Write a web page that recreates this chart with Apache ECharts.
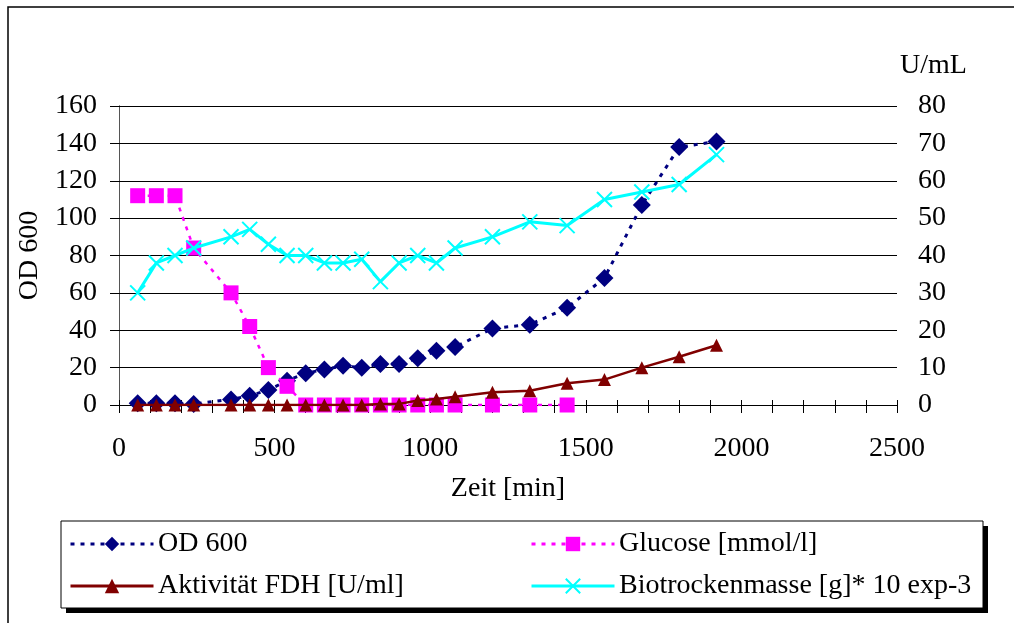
<!DOCTYPE html>
<html>
<head>
<meta charset="utf-8">
<script src="https://cdn.jsdelivr.net/npm/echarts@6/dist/echarts.min.js"></script>
<style>
  html, body { margin: 0; padding: 0; background: #fff; }
  #chart { width: 1014px; height: 623px; }
</style>
</head>
<body>
<div id="chart"></div>
<script>
// Sampling times in minutes
const time = [60, 120, 180, 240, 360, 420, 480, 540, 600, 660, 720, 780, 840, 900, 960, 1020, 1080, 1200, 1320, 1440, 1560, 1680, 1800, 1920];
// Optical density at 600 nm (left axis)
const od600 = [1, 1, 1, 0.5, 3, 5, 8, 13, 17, 19, 21, 20, 22, 22, 25, 29, 31, 41, 43, 52, 68, 107, 138, 141];
// Glucose, measured until 1440 min (left axis)
const glucose = [112, 112, 112, 84, 60, 42, 20, 10, 0, 0, 0, 0, 0, 0, 0, 0, 0, 0, 0, 0];
// FDH activity (right axis, U/mL)
const fdh = [0, 0, 0, 0, 0, 0, 0, 0, 0, 0, 0, 0, 0.3, 0.3, 1.2, 1.6, 2.2, 3.4, 3.8, 5.8, 6.8, 10, 12.9, 16];
// Dry biomass (right axis)
const biomass = [30, 38, 40, 42, 45, 47, 43, 40, 40, 38, 38, 39, 33, 38, 40, 38, 42, 45, 49, 48, 55, 57, 59, 67];

const seriesNames = ['OD 600', 'Glucose [mmol/l]', 'Aktivität FDH [U/ml]', 'Biotrockenmasse [g]* 10 exp-3'];
const xTickLabels = [0, 500, 1000, 1500, 2000, 2500];
const rightAxisUnit = 'U/mL';

const pairs = (xs, ys) => ys.map((v, i) => [xs[i], v]);

const FONT = 'Liberation Serif';
const crossPath = 'path://M0,0L10,10M0,10L10,0';

// Legend entries: two columns, two rows (icon left edge, row centre)
const legendSlots = [[69, 544], [530, 544], [69, 586], [530, 586]];

const chart = echarts.init(document.getElementById('chart'), null, { renderer: 'canvas' });

// Each legend shows only the line+marker icon; its caption is a text element beside it
function legendAt(name, left, centerY) {
  return {
    data: [name],
    left: left, top: centerY - 9, orient: 'horizontal',
    itemWidth: 83, itemHeight: 18, selectedMode: false, padding: 0,
    lineStyle: { width: 3 },
    formatter: () => '',
    textStyle: { fontSize: 1 }
  };
}
const legendCaptions = seriesNames.map((name, i) => ({
  type: 'text',
  x: legendSlots[i][0] + 89, y: legendSlots[i][1],
  style: {
    text: name, fontFamily: FONT, fontSize: 28, fill: '#000',
    verticalAlign: 'middle', align: 'left'
  },
  silent: true, z: 10
}));

chart.setOption({
  animation: false,
  backgroundColor: '#fff',
  grid: { left: 119, right: 117, top: 106, bottom: 218, containLabel: false },
  graphic: [
    { type: 'rect', shape: { x: 8, y: 7, width: 1100, height: 700 }, style: { fill: 'none', stroke: '#000', lineWidth: 1.5 }, silent: true, z: 0 },
    { type: 'rect', shape: { x: 66, y: 526, width: 922, height: 87 }, style: { fill: '#000' }, silent: true, z: 0 },
    { type: 'rect', shape: { x: 61, y: 521, width: 922, height: 87 }, style: { fill: '#fff', stroke: '#000', lineWidth: 1 }, silent: true, z: 1 },
    { type: 'text', x: 900, y: 66, style: { text: rightAxisUnit, fontFamily: FONT, fontSize: 28, fill: '#000', verticalAlign: 'middle' }, silent: true, z: 5 }
  ].concat(legendCaptions),
  legend: seriesNames.map((n, i) => legendAt(n, legendSlots[i][0], legendSlots[i][1])),
  xAxis: [
    {
      type: 'value', min: 0, max: 2500, interval: 100,
      name: 'Zeit [min]', nameLocation: 'middle', nameGap: 70,
      nameTextStyle: { fontFamily: FONT, fontSize: 28, color: '#000' },
      axisLine: { show: true, onZero: false, lineStyle: { color: '#000', width: 1 } },
      axisTick: { show: true, inside: false, length: 8, lineStyle: { color: '#000' } },
      axisLabel: {
        margin: 30, fontFamily: FONT, fontSize: 28, color: '#000',
        formatter: v => (xTickLabels.indexOf(v) >= 0 ? String(v) : ''),
        showMinLabel: true, showMaxLabel: true
      },
      splitLine: { show: false }
    },
    {
      type: 'value', min: 0, max: 2500, interval: 100, position: 'bottom',
      axisLine: { show: false },
      axisTick: { show: true, inside: true, length: 5, lineStyle: { color: '#000' } },
      axisLabel: { show: false }, splitLine: { show: false }
    }
  ],
  yAxis: [
    {
      type: 'value', min: 0, max: 160, interval: 20,
      name: 'OD 600', nameLocation: 'middle', nameGap: 72, nameRotate: 90,
      nameTextStyle: { fontFamily: FONT, fontSize: 28, color: '#000' },
      axisLine: { show: true, lineStyle: { color: '#555', width: 1 } },
      axisTick: { show: true, inside: false, length: 9, lineStyle: { color: '#000' } },
      axisLabel: { margin: 22, fontFamily: FONT, fontSize: 28, color: '#000' },
      splitLine: { show: true, lineStyle: { color: '#000', width: 1 } }
    },
    {
      type: 'value', min: 0, max: 80, interval: 10, position: 'right',
      axisLine: { show: true, lineStyle: { color: '#555', width: 1 } },
      axisTick: { show: true, inside: false, length: 9, lineStyle: { color: '#000' } },
      axisLabel: { margin: 21, fontFamily: FONT, fontSize: 28, color: '#000' },
      splitLine: { show: false }
    }
  ],
  series: [
    {
      name: seriesNames[0], type: 'line', yAxisIndex: 0, z: 2,
      data: pairs(time, od600),
      symbol: 'diamond', symbolSize: 18,
      lineStyle: { color: '#000080', width: 3, type: [4, 6] },
      itemStyle: { color: '#000080' }
    },
    {
      name: seriesNames[1], type: 'line', yAxisIndex: 0, z: 3,
      data: pairs(time, glucose),
      symbol: 'rect', symbolSize: 15,
      lineStyle: { color: '#FF00FF', width: 2.5, type: [4, 6] },
      itemStyle: { color: '#FF00FF' }
    },
    {
      name: seriesNames[2], type: 'line', yAxisIndex: 1, z: 4,
      data: pairs(time, fdh),
      symbol: 'triangle', symbolSize: 13,
      lineStyle: { color: '#800000', width: 2.5 },
      itemStyle: { color: '#800000' }
    },
    {
      name: seriesNames[3], type: 'line', yAxisIndex: 1, z: 5,
      data: pairs(time, biomass),
      symbol: crossPath, symbolSize: 15,
      lineStyle: { color: '#00FFFF', width: 3 },
      itemStyle: { color: '#00FFFF', borderColor: '#00FFFF', borderWidth: 2 }
    }
  ]
});
</script>
</body>
</html>
